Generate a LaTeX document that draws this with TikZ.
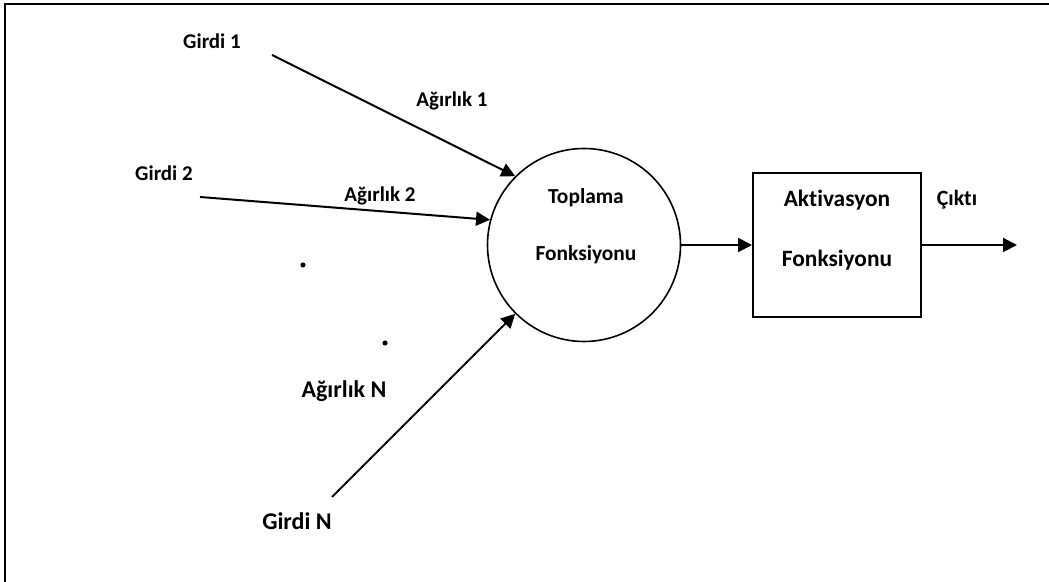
\documentclass[tikz,border=0pt]{standalone}
\usepackage{fontspec}
\setmainfont{Carlito}[Ligatures={NoCommon}]
\usepackage{tikz}
\usetikzlibrary{positioning,arrows.meta}
\tikzset{
  lbl/.style={font=\bfseries\fontsize{10.5pt}{12pt}\selectfont, inner sep=0pt},
  biglbl/.style={lbl, font=\bfseries\fontsize{12pt}{14pt}\selectfont},
  sumnode/.style={draw, circle, line width=0.8pt, minimum size=96.5pt, inner sep=0pt},
  actbox/.style={draw, rectangle, line width=1pt, minimum width=84pt, minimum height=72pt, inner sep=0pt},
  twoline/.style={align=center, inner sep=0pt, font=\bfseries\fontsize{10.7pt}{28.5pt}\selectfont},
  arrow/.style={-{Triangle[length=7pt,width=7pt]}, line width=1pt},
  dotmark/.style={fill, circle, inner sep=0pt, minimum size=2.6pt}
}
\begin{document}
\begin{tikzpicture}[x=0.5pt,y=-0.5pt]
  \useasboundingbox (0,0) rectangle (1049,582);
  \draw[line width=1.2pt] (5,582) -- (5,4) -- (1049,4);
  % toplama ve aktivasyon
  \node[sumnode] (sum) at (584,245) {};
  \node[twoline] (sumtext) at (586,226.5) {Toplama\\Fonksiyonu};
  \node[actbox] (act) at (837,245) {};
  \node[twoline, font=\bfseries\fontsize{11.7pt}{30pt}\selectfont] (acttext) at (837,230) {Aktivasyon\\Fonksiyonu};
  % girdiler
  \node[lbl] (girdi1) at (212,41) {Girdi 1};
  \node[lbl] (girdi2) at (164,173) {Girdi 2};
  \node[biglbl] (girdiN) at (297,521) {Girdi N};
  \node[lbl] (agirlik1) at (452,101) {Ağırlık 1};
  \node[lbl] (agirlik2) at (380,196) {Ağırlık 2};
  \node[biglbl] (agirlikN) at (344,391) {Ağırlık N};
  \node[lbl, font=\bfseries\fontsize{10.9pt}{12pt}\selectfont] (cikti) at (957,200) {Çıktı};
  \node[dotmark] (dot1) at (303,265) {};
  \node[dotmark] (dot2) at (385,343) {};
  \coordinate (in1) at (272,55);
  \coordinate (in2) at (200,197);
  \coordinate (inN) at (332,497);
  \coordinate (out) at (1017,245);
  \draw[arrow] (in1) -- (sum.135);
  \draw[arrow] (in2) -- (sum.165);
  \draw[arrow] (inN) -- (sum.225);
  \draw[arrow] (sum.east) -- (act.west);
  \draw[arrow] (act.east) -- (out);
\end{tikzpicture}
\end{document}
